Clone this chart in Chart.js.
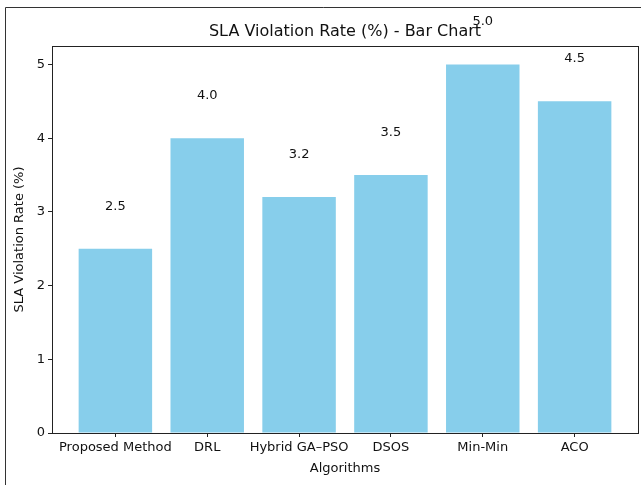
<!DOCTYPE html>
<html>
<head>
<meta charset="utf-8">
<script src="https://cdn.jsdelivr.net/npm/chart.js@4/dist/chart.umd.min.js"></script>
<style>
html,body{margin:0;padding:0;background:#fff;}
#wrap{position:absolute;left:0;top:0;width:641px;height:485px;}
</style>
</head>
<body>
<div id="wrap"><canvas id="c" width="641" height="485"></canvas></div>
<script>
const categories = ["Proposed Method", "DRL", "Hybrid GA\u2013PSO", "DSOS", "Min-Min", "ACO"];
const slaValues = [2.5, 4.0, 3.2, 3.5, 5.0, 4.5];
const yTicks = [0, 1, 2, 3, 4, 5];

const chartTitle = "SLA Violation Rate (%) - Bar Chart";
const FONT = "'DejaVu Sans', sans-serif";
const INK = "#111";

const framePlugin = {
  id: 'frame',
  beforeDraw(chart) {
    const ctx = chart.ctx;
    ctx.save();
    ctx.strokeStyle = '#333';
    ctx.lineWidth = 1;
    ctx.beginPath();
    ctx.moveTo(5.5, 485);
    ctx.lineTo(5.5, 7.5);
    ctx.lineTo(641, 7.5);
    ctx.stroke();
    ctx.restore();
  },
  afterDraw(chart) {
    const {ctx, chartArea: a, scales} = chart;
    ctx.save();
    ctx.strokeStyle = '#222';
    ctx.lineWidth = 1;
    ctx.strokeRect(Math.round(a.left) + 0.5, Math.round(a.top) + 0.5,
                   Math.round(a.right - a.left), Math.round(a.bottom - a.top));
    // title
    ctx.fillStyle = INK;
    ctx.font = "16px " + FONT;
    ctx.textAlign = 'center';
    ctx.textBaseline = 'middle';
    ctx.fillText(chartTitle, (a.left + a.right) / 2, 32);
    // value labels
    ctx.font = "13px " + FONT;
    ctx.textBaseline = 'bottom';
    slaValues.forEach((v, i) => {
      const x = scales.x.getPixelForValue(i);
      const y = scales.y.getPixelForValue(v + 0.5);
      ctx.fillText(v.toFixed(1), x, y + 1);
    });
    ctx.restore();
  }
};

new Chart(document.getElementById('c'), {
  type: 'bar',
  data: {
    datasets: [{
      data: slaValues.map((v, i) => ({x: i, y: v})),
      backgroundColor: '#87CEEB',
      borderWidth: 0,
      barPercentage: 0.8,
      categoryPercentage: 1.0
    }]
  },
  options: {
    responsive: false,
    animation: false,
    devicePixelRatio: 1,
    layout: {padding: {top: 46, right: 3, left: 0, bottom: 0}},
    plugins: {legend: {display: false}, tooltip: {enabled: false}, title: {display: false}},
    scales: {
      x: {
        type: 'linear',
        min: -0.69, max: 5.69,
        offset: false,
        afterBuildTicks: s => { s.ticks = categories.map((_, i) => ({value: i})); },
        afterFit: s => { s.height = 52; },
        grid: {display: true, offset: false, drawOnChartArea: false, drawTicks: true, tickLength: 4, tickColor: '#222', lineWidth: 1},
        border: {display: false},
        ticks: {
          color: INK, font: {family: FONT, size: 13}, padding: 3, maxRotation: 0, autoSkip: false,
          callback: v => categories[v]
        },
        title: {display: true, text: 'Algorithms', color: INK, font: {family: FONT, size: 13}, padding: {top: 0, bottom: 9}}
      },
      y: {
        min: 0, max: 5.25,
        afterBuildTicks: s => { s.ticks = yTicks.map(v => ({value: v})); },
        afterFit: s => { s.width = 52; },
        grid: {display: true, drawOnChartArea: false, drawTicks: true, tickLength: 4, tickColor: '#222', lineWidth: 1},
        border: {display: false},
        ticks: {color: INK, font: {family: FONT, size: 13}, padding: 3, callback: v => String(v)},
        title: {display: true, text: 'SLA Violation Rate (%)', color: INK, font: {family: FONT, size: 13}, padding: {top: 12, bottom: 0}}
      }
    }
  },
  plugins: [framePlugin]
});
</script>
</body>
</html>
